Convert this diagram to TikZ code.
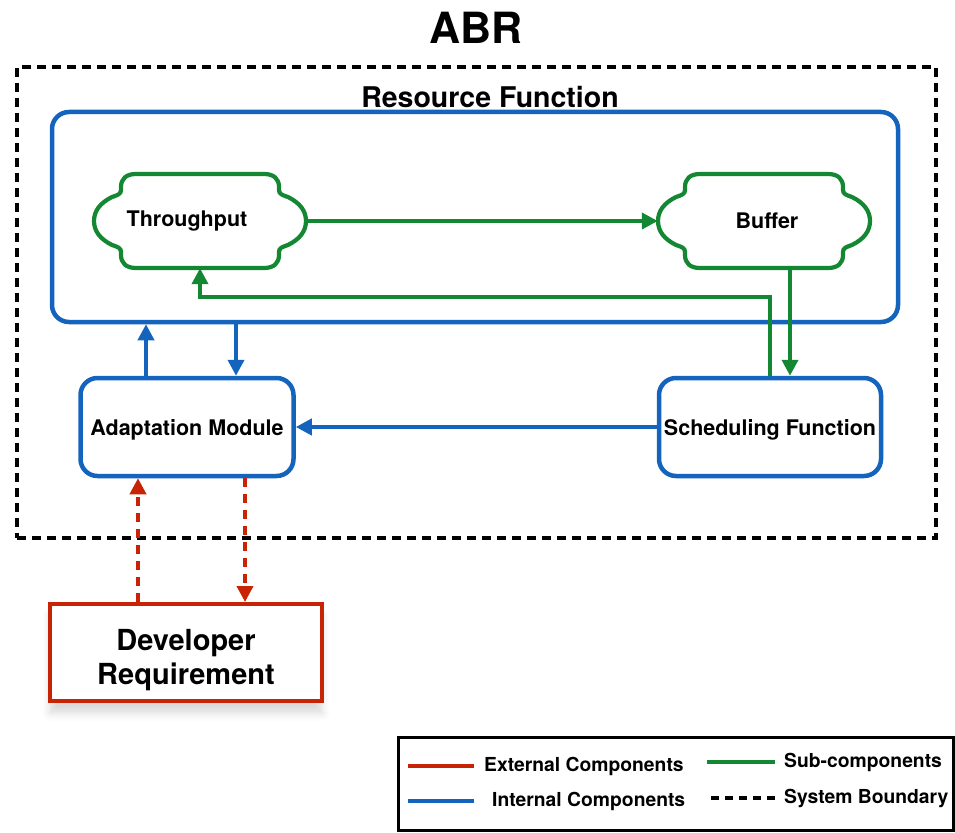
\documentclass[tikz,border=0pt]{standalone}
\usepackage{fontspec}
\setmainfont{TeX Gyre Heros}
\usetikzlibrary{arrows.meta,shadows.blur}

\definecolor{extred}{RGB}{200,35,5}
\definecolor{intblue}{RGB}{20,100,190}
\definecolor{subgreen}{RGB}{20,135,50}

\tikzset{
  intbox/.style={draw=intblue, line width=4.5pt, rounded corners=17pt, fill=white,
    font=\fontsize{21.5}{25}\selectfont\bfseries, inner sep=0pt, text depth=-3pt},
  extbox/.style={draw=extred, line width=4pt, fill=white, align=center, inner sep=0pt,
    font=\fontsize{29}{34}\selectfont\bfseries,
    blur shadow={shadow xshift=0pt, shadow yshift=-12pt, shadow opacity=15, shadow blur radius=8pt}},
  subtext/.style={minimum width=212pt, minimum height=94pt, inner sep=0pt,
    font=\fontsize{21.5}{25}\selectfont\bfseries},
  intarrow/.style={draw=intblue, line width=3.8pt, -{Triangle[length=16pt,width=16pt]}},
  subarrow/.style={draw=subgreen, line width=3.8pt, -{Triangle[length=16pt,width=16pt]}},
  extarrow/.style={draw=extred, line width=3.8pt, dash pattern=on 9pt off 7pt,
    -{Triangle[length=16pt,width=16pt]}},
  legtext/.style={anchor=west, inner sep=0pt, font=\fontsize{19.3}{22}\selectfont\bfseries},
  subcloud/.pic={
    \draw[subgreen, line width=4.2pt, fill=white]
      (-64,-47) -- (64,-47) .. controls (74,-47) and (79,-42) .. (79,-34) -- (79,-31)
      .. controls (79,-27) and (82,-26) .. (88,-24)
      .. controls (100,-18) and (106,-10) .. (106,0)
      .. controls (106,10) and (100,18) .. (88,24)
      .. controls (82,26) and (79,27) .. (79,31) -- (79,34)
      .. controls (79,42) and (74,47) .. (64,47) -- (-64,47)
      .. controls (-74,47) and (-79,42) .. (-79,34) -- (-79,31)
      .. controls (-79,27) and (-82,26) .. (-88,24)
      .. controls (-100,18) and (-106,10) .. (-106,0)
      .. controls (-106,-10) and (-100,-18) .. (-88,-24)
      .. controls (-82,-26) and (-79,-27) .. (-79,-31) -- (-79,-34)
      .. controls (-79,-42) and (-74,-47) .. (-64,-47) -- cycle;
  }
}

\begin{document}
\begin{tikzpicture}[x=1pt, y=-1pt]
\useasboundingbox (0,0) rectangle (955,832);

% Titles
\node[font=\fontsize{43}{47}\selectfont\bfseries] (abr) at (476,28) {ABR};

% System boundary
\node[draw=black, line width=4pt, dash pattern=on 9pt off 6pt, minimum width=919pt,
  minimum height=471pt, inner sep=0pt] (system) at (476.5,302.5) {};

% Resource function and its parts
\node[intbox, minimum width=846pt, minimum height=210pt] (rf) at (475,217) {};
\node[font=\fontsize{28.5}{32}\selectfont\bfseries] (rftitle) at (490,97) {Resource Function};

\pic at (200,221) {subcloud};
\node[subtext] (tput) at (200,221) {\hspace*{-26pt}Throughput};
\pic at (764,221) {subcloud};
\node[subtext] (buf) at (764,221) {\hspace*{6pt}Buffer};

\node[intbox, minimum width=213pt, minimum height=98pt] (adapt) at (187,427) {Adaptation Module};
\node[intbox, minimum width=222pt, minimum height=98pt] (sched) at (770,427) {Scheduling Function};

% Developer side
\node[extbox, minimum width=272pt, minimum height=97pt] (dev) at (186,652.5) {\rule{0pt}{36pt}Developer\\Requirement};

% Connections
\coordinate (ret) at (0,297);
\draw[subarrow] (tput.east) -- (buf.west);
\draw[subarrow] ([xshift=26pt]buf.south) -- ([xshift=26pt]buf.south |- sched.north);
\draw[subarrow] (sched.north) |- (tput.south |- ret) -- (tput.south);

\draw[intarrow] ([xshift=-41pt]adapt.north) -- ([xshift=-41pt]adapt.north |- rf.south);
\draw[intarrow] ([xshift=49pt]adapt.north |- rf.south) -- ([xshift=49pt]adapt.north);
\draw[intarrow] (sched.west) -- (adapt.east);

\draw[extarrow] ([xshift=-49pt]adapt.south |- dev.north) -- ([xshift=-49pt]adapt.south);
\draw[extarrow] ([xshift=58pt]adapt.south) -- ([xshift=58pt]adapt.south |- dev.north);

% Legend
\node[draw=black, line width=3pt, minimum width=555pt, minimum height=93pt, inner sep=0pt]
  (legend) at (675.5,783.5) {};
\node[legtext] (ext) at (484,766) {External Components};
\node[legtext] (int) at (492,801) {Internal Components};
\node[legtext] (sub) at (784,762) {Sub-components};
\node[legtext] (sys) at (784,798) {System Boundary};
\draw[extred, line width=4pt] ([xshift=-10pt]ext.west) -- ++(-66,0);
\draw[intblue, line width=4pt] ([xshift=-18pt]int.west) -- ++(-66,0);
\draw[subgreen, line width=4pt] ([xshift=-9pt]sub.west) -- ++(-68,0);
\draw[black, line width=4pt, dash pattern=on 8pt off 6pt] ([xshift=-9pt]sys.west) -- ++(-68,0);
\end{tikzpicture}
\end{document}
